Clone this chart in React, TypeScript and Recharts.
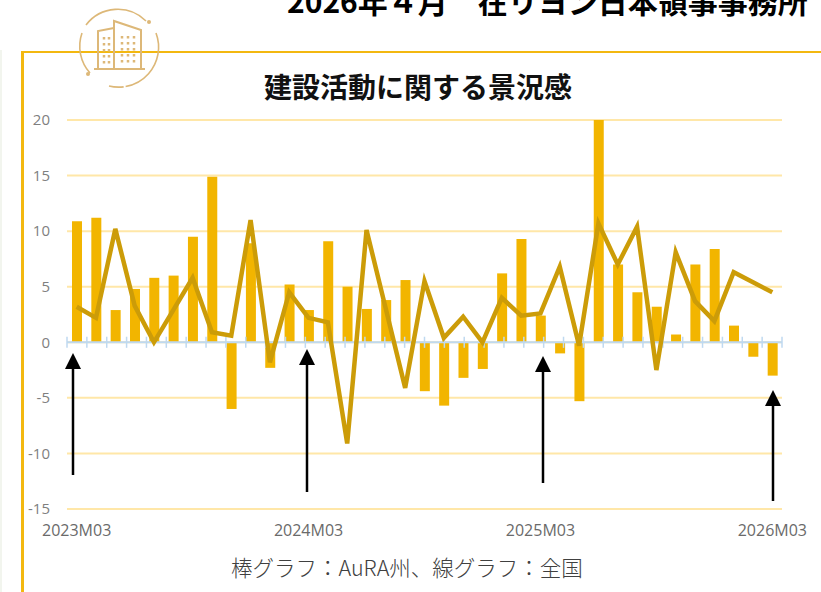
import {
  Bar,
  CartesianGrid,
  ComposedChart,
  Line,
  ReferenceLine,
  XAxis,
  YAxis,
} from "recharts";

/* ===== Data ===== */
const MONTHS = [
  "2023M03", "2023M04", "2023M05", "2023M06", "2023M07", "2023M08", "2023M09", "2023M10", "2023M11", "2023M12",
  "2024M01", "2024M02", "2024M03", "2024M04", "2024M05", "2024M06", "2024M07", "2024M08", "2024M09", "2024M10",
  "2024M11", "2024M12", "2025M01", "2025M02", "2025M03", "2025M04", "2025M05", "2025M06", "2025M07", "2025M08",
  "2025M09", "2025M10", "2025M11", "2025M12", "2026M01", "2026M02", "2026M03",
];
const AURA = [
  10.9, 11.2, 2.9, 4.8, 5.8, 6.0, 9.5, 14.9, -6.0, 8.9,
  -2.3, 5.2, 2.9, 9.1, 5.0, 3.0, 3.8, 5.6, -4.4, -5.7,
  -3.2, -2.4, 6.2, 9.3, 2.4, -1.0, -5.3, 20, 7.0, 4.5,
  3.2, 0.7, 7.0, 8.4, 1.5, -1.3, -3.0,
];
const NATIONAL = [
  3.2, 2.2, 10.2, 3.3, 0.0, 2.9, 5.8, 0.9, 0.6, 11.0,
  -1.8, 4.5, 2.2, 1.8, -9.1, 10.1, 3.0, -4.1, 5.5, 0.4,
  2.3, 0.0, 4.0, 2.4, 2.6, 6.8, -0.3, 10.7, 7.0, 10.4,
  -2.5, 8.1, 3.7, 1.9, 6.3, 5.4, 4.5,
];
const Y_TICKS = [-15, -10, -5, 0, 5, 10, 15, 20];

const chartData = MONTHS.map((month, i) => ({
  month,
  aura: AURA[i],
  national: NATIONAL[i],
}));

// boundaries between months, used for the small ticks on the zero line
const BOUNDS = Array.from({ length: MONTHS.length + 1 }, (_, i) => i);

/* ===== Annotations ===== */
const ARROWS = [
  { x: 73, top: 353, bottom: 475 },
  { x: 307, top: 349, bottom: 492 },
  { x: 543, top: 356, bottom: 483 },
  { x: 773, top: 390, bottom: 501 },
];

const JP_FONT = "'Noto Sans CJK JP', sans-serif";
const Y_TICK_STYLE = { fill: "#7f7f7f", fontSize: 15, fontFamily: "'Open Sans', sans-serif" };
const X_TICK_STYLE = { fill: "#6a6a6a", fontSize: 16, fontFamily: "'Open Sans', sans-serif" };

const BuildingIcon = () => (
  <svg width={90} height={90} style={{ position: "absolute", left: 74, top: 3 }} fill="none" stroke="#DDB878">
    <path d="M 72 18 A 40 40 0 0 0 12 22" strokeWidth={1.6} />
    <path d="M 82 30 A 40 40 0 0 1 35 83" strokeWidth={1.6} strokeDasharray="70 2 30" />
    <path d="M 16 70 A 40 40 0 0 1 8 30" strokeWidth={1.6} />
    <circle cx={75} cy={19} r={2} fill="#DDB878" stroke="none" />
    <circle cx={14} cy={71} r={2} fill="#DDB878" stroke="none" />
    <path d="M 24 65 V 28 L 40 25 V 65" strokeWidth={2} />
    <path d="M 40 65 V 18 L 67 27 V 65" strokeWidth={2} />
    <path d="M 20 66 H 71" strokeWidth={2} />
    <path d="M 30 34 V 62 M 35 34 V 62" strokeWidth={2.5} strokeDasharray="2.5 3.5" />
    <path d="M 48 33 V 60 M 54 33 V 60 M 60 33 V 60" strokeWidth={2.5} strokeDasharray="2.5 3.5" />
  </svg>
);

export default function App() {
  return (
    <div style={{ position: "fixed", left: 0, top: 0, width: 821, height: 592, overflow: "hidden", background: "#fff" }}>
      {/* Slide header, cut off by the picture */}
      <div
        style={{
          position: "absolute",
          left: 287,
          top: -22,
          whiteSpace: "nowrap",
          fontFamily: JP_FONT,
          fontWeight: 700,
          fontSize: 30,
          lineHeight: "44px",
          color: "#000",
        }}
      >
        2026年４月　在リヨン日本領事事務所
      </div>

      {/* Frame */}
      <div style={{ position: "absolute", left: 0, top: 50, width: 2, height: 542, background: "#F2F5EE" }} />
      <div
        style={{
          position: "absolute",
          left: 21,
          top: 51,
          width: 900,
          height: 539,
          borderTop: "2px solid #F3B810",
          borderLeft: "3px solid #F3B810",
          borderBottom: "1px solid #FBE9C0",
        }}
      />
      <BuildingIcon />

      <div
        style={{
          position: "absolute",
          left: 0,
          width: 836,
          top: 66,
          textAlign: "center",
          fontFamily: JP_FONT,
          fontWeight: 700,
          fontSize: 28,
          lineHeight: "40px",
          color: "#111",
        }}
      >
        建設活動に関する景況感
      </div>

      <div style={{ position: "absolute", left: 0, top: 0 }}>
        <ComposedChart
          width={821}
          height={592}
          data={chartData}
          barSize={10}
          margin={{ top: 120, right: 39, bottom: 53, left: 0 }}
        >
          <CartesianGrid vertical={false} stroke="#FFE7A8" strokeWidth={2} />
          <XAxis
            dataKey="month"
            xAxisId="months"
            interval={11}
            height={30}
            axisLine={false}
            tickLine={false}
            tickMargin={10}
            tick={X_TICK_STYLE}
          />
          <XAxis xAxisId="bounds" type="number" domain={[0, MONTHS.length]} height={0} hide />
          <YAxis
            domain={[-15, 20]}
            ticks={Y_TICKS}
            width={67}
            axisLine={false}
            tickLine={false}
            tickMargin={11}
            tick={Y_TICK_STYLE}
          />
          <Bar xAxisId="months" dataKey="aura" fill="#F2B500" isAnimationActive={false} />
          <ReferenceLine xAxisId="months" y={0} stroke="#BFD9F0" strokeWidth={2} />
          {BOUNDS.map((b) => (
            <ReferenceLine
              key={b}
              xAxisId="bounds"
              stroke="#BFD9F0"
              strokeWidth={1.5}
              segment={[
                { x: b, y: -0.5 },
                { x: b, y: 0.5 },
              ]}
            />
          ))}
          <Line
            xAxisId="months"
            dataKey="national"
            type="linear"
            stroke="#CC9C08"
            strokeWidth={4.5}
            dot={false}
            isAnimationActive={false}
          />
        </ComposedChart>
      </div>

      {/* Year markers */}
      <svg width={821} height={592} style={{ position: "absolute", left: 0, top: 0 }}>
        {ARROWS.map((a) => (
          <g key={a.x}>
            <line x1={a.x} x2={a.x} y1={a.top + 14} y2={a.bottom} stroke="#000" strokeWidth={2.5} />
            <polygon points={`${a.x},${a.top} ${a.x - 8},${a.top + 16} ${a.x + 8},${a.top + 16}`} fill="#000" />
          </g>
        ))}
      </svg>

      <div
        style={{
          position: "absolute",
          left: 231,
          top: 552,
          whiteSpace: "nowrap",
          fontFamily: JP_FONT,
          fontWeight: 300,
          fontSize: 21.5,
          lineHeight: "30px",
          color: "#404040",
        }}
      >
        棒グラフ：AuRA州、線グラフ：全国
      </div>
    </div>
  );
}
